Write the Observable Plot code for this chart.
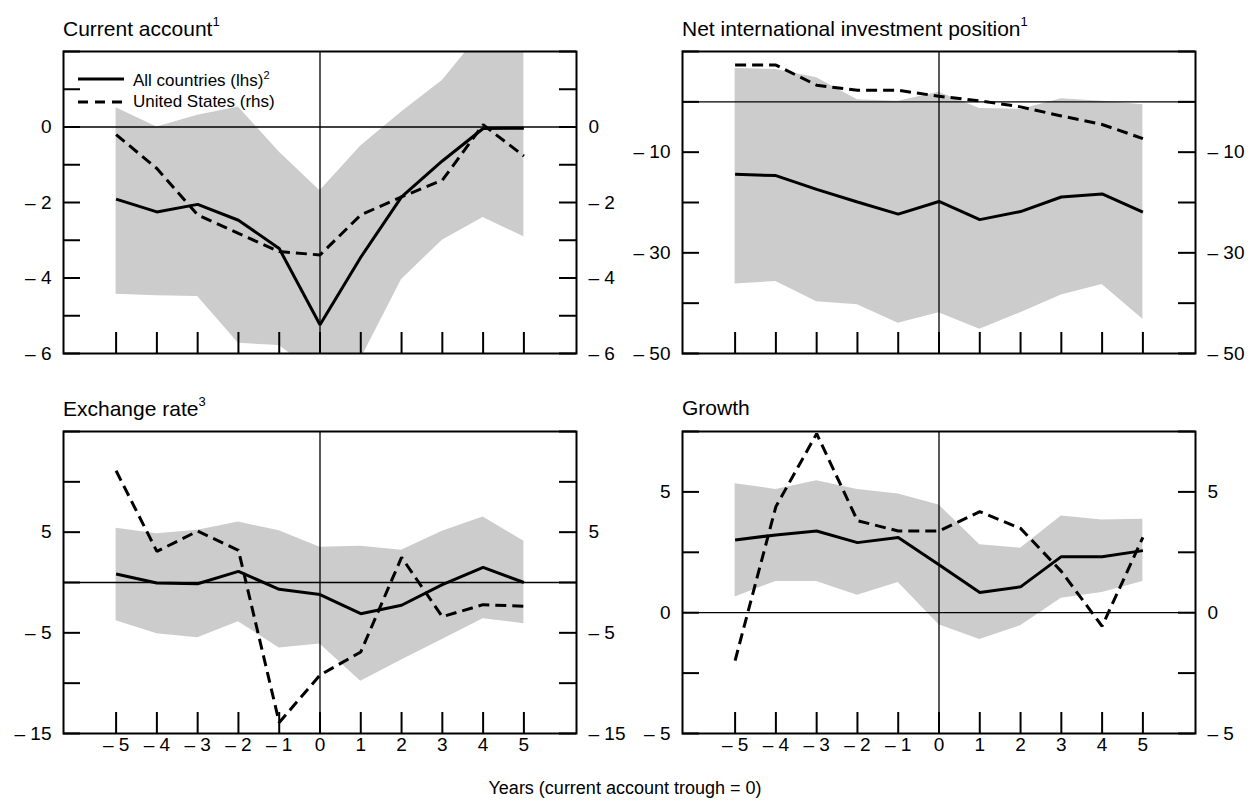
<!DOCTYPE html>
<html>
<head>
<meta charset="utf-8">
<script src="https://cdn.jsdelivr.net/npm/d3@7"></script>
<script src="https://cdn.jsdelivr.net/npm/@observablehq/plot@0.6"></script>
<style>
  body { margin: 0; background: #fff; }
  #chart { position: relative; width: 1250px; height: 804px; overflow: hidden;
           font-family: "Liberation Sans", Arial, Helvetica, sans-serif; color: #000; }
  .title { position: absolute; font-size: 21px; line-height: 1; white-space: nowrap; }
  .title sup { font-size: 13px; position: relative; top: -2px; }
  .legend { position: absolute; font-size: 17px; line-height: 1; white-space: nowrap; }
  .legend sup { font-size: 11px; }
  .legend .row { position: absolute; left: 0; display: flex; align-items: center; }
  .legend svg { display: block; margin-right: 9px; }
  .footer { position: absolute; left: 0; width: 1250px; text-align: center; font-size: 18px; line-height: 1; }
</style>
</head>
<body>
<div id="chart"></div>
<script>
// Years relative to the current account trough
const years = [-5, -4, -3, -2, -1, 0, 1, 2, 3, 4, 5];

// Current account (% of GDP)
const caAll  = [-1.91, -2.25, -2.05, -2.47, -3.22, -5.24, -3.45, -1.85, -0.90, -0.04, -0.03];
const caUS   = [-0.20, -1.10, -2.33, -2.82, -3.30, -3.39, -2.33, -1.85, -1.41, 0.06, -0.77];
const caHigh = [0.51, 0.00, 0.31, 0.53, -0.66, -1.69, -0.50, 0.40, 1.23, 2.55, 3.00];
const caLow  = [-4.43, -4.47, -4.49, -5.73, -5.79, -6.60, -6.15, -4.04, -3.00, -2.40, -2.91];

// Net international investment position (% of GDP)
const niAll  = [-14.4, -14.65, -17.4, -19.9, -22.3, -19.8, -23.4, -21.8, -18.9, -18.3, -21.9];
const niUS   = [7.3, 7.3, 3.3, 2.3, 2.3, 1.1, 0.2, -1.0, -2.8, -4.5, -7.3];
const niHigh = [6.6, 6.4, 4.8, 0.4, 0.1, 1.9, -1.3, -1.5, 0.6, 0.1, -0.6];
const niLow  = [-36.2, -35.7, -39.7, -40.3, -44.0, -41.9, -45.2, -41.9, -38.4, -36.3, -43.2];

// Exchange rate (% change)
const erAll  = [0.84, -0.05, -0.12, 1.10, -0.68, -1.20, -3.10, -2.26, -0.21, 1.50, 0.00];
const erUS   = [11.1, 3.09, 5.10, 3.20, -13.9, -9.20, -6.90, 2.50, -3.40, -2.20, -2.36];
const erHigh = [5.40, 4.85, 5.20, 6.00, 5.13, 3.50, 3.60, 3.20, 5.10, 6.50, 4.10];
const erLow  = [-3.80, -5.10, -5.50, -3.90, -6.50, -6.10, -9.80, -7.70, -5.65, -3.60, -4.10];

// Growth (%)
const grAll  = [3.01, 3.22, 3.38, 2.90, 3.11, 1.98, 0.84, 1.07, 2.32, 2.32, 2.57];
const grUS   = [-1.98, 4.39, 7.41, 3.81, 3.38, 3.38, 4.18, 3.49, 1.71, -0.56, 3.12];
const grHigh = [5.34, 5.10, 5.46, 5.10, 4.91, 4.46, 2.81, 2.67, 4.00, 3.84, 3.87];
const grLow  = [0.65, 1.29, 1.29, 0.72, 1.25, -0.50, -1.11, -0.54, 0.60, 0.84, 1.29];

// Axis ticks per panel: short marks and labelled values
const caMinor = [-6, -5, -4, -3, -2, -1, 0, 1, 2];
const caLabels = [0, -2, -4, -6];
const niMinor = [-50, -40, -30, -20, -10, 0, 10];
const niLabels = [-10, -30, -50];
const erMinor = [-15, -10, -5, 0, 5, 10, 15];
const erLabels = [5, -5, -15];
const grMinor = [-5, -2.5, 0, 2.5, 5, 7.5];
const grLabels = [5, 0, -5];

const chart = document.getElementById("chart");
const FONT = '"Liberation Sans", Arial, Helvetica, sans-serif';
const fmt = d => d < 0 ? "\u2013 " + (-d) : String(d);

function rowsOf(all, us, low, high) {
  return years.map((year, i) => ({year, all: all[i], us: us[i], low: low[i], high: high[i]}));
}

function panel({left, top, rows, yDomain, yMinor, yLabels, xLabels}) {
  const W = 513, H = 302, ML = 62, MR = 62, MT = 8, MB = 34;
  const svg = Plot.plot({
    width: W + ML + MR,
    height: H + MT + MB,
    marginLeft: ML, marginRight: MR, marginTop: MT, marginBottom: MB,
    x: {domain: [-6.29, 6.29], axis: null},
    y: {domain: yDomain, axis: null},
    style: {fontFamily: FONT, fontSize: "19px", color: "#000", background: "transparent", overflow: "visible"},
    marks: [
      Plot.areaY(rows, {x: "year", y1: "low", y2: "high", fill: "#cccccc", clip: true}),
      Plot.ruleY([0], {stroke: "#000", strokeWidth: 1.3}),
      Plot.ruleX([0], {stroke: "#000", strokeWidth: 1.3}),
      Plot.lineY(rows, {x: "year", y: "us", stroke: "#000", strokeWidth: 3,
        strokeDasharray: "11,6", strokeLinecap: "butt", strokeLinejoin: "miter", clip: true}),
      Plot.lineY(rows, {x: "year", y: "all", stroke: "#000", strokeWidth: 3,
        strokeLinecap: "butt", strokeLinejoin: "miter", clip: true}),
      Plot.tickY(yMinor, {y: d => d, insetRight: W - 17, stroke: "#000", strokeWidth: 2}),
      Plot.tickY(yMinor, {y: d => d, insetLeft: W - 17, stroke: "#000", strokeWidth: 2}),
      Plot.tickX(years, {x: d => d, insetTop: H - 21, stroke: "#000", strokeWidth: 2}),
      Plot.frame({stroke: "#000", strokeWidth: 2}),
      Plot.axisY(yLabels, {anchor: "left", tickSize: 0, tickPadding: 12, tickFormat: fmt, label: null}),
      Plot.axisY(yLabels, {anchor: "right", tickSize: 0, tickPadding: 12, tickFormat: fmt, label: null}),
      xLabels ? Plot.axisX(years, {anchor: "bottom", tickSize: 0, tickPadding: 4, tickFormat: fmt, label: null}) : null
    ]
  });
  svg.style.position = "absolute";
  svg.style.left = (left - ML) + "px";
  svg.style.top = (top - MT) + "px";
  chart.appendChild(svg);
}

function title(html, left, top) {
  const el = document.createElement("div");
  el.className = "title";
  el.style.left = left + "px";
  el.style.top = top + "px";
  el.innerHTML = html;
  chart.appendChild(el);
}

panel({left: 63, top: 51, rows: rowsOf(caAll, caUS, caLow, caHigh),
  yDomain: [-6, 2], yMinor: caMinor, yLabels: caLabels, xLabels: false});
panel({left: 682, top: 51, rows: rowsOf(niAll, niUS, niLow, niHigh),
  yDomain: [-50, 10], yMinor: niMinor, yLabels: niLabels, xLabels: false});
panel({left: 63, top: 431, rows: rowsOf(erAll, erUS, erLow, erHigh),
  yDomain: [-15, 15], yMinor: erMinor, yLabels: erLabels, xLabels: true});
panel({left: 682, top: 431, rows: rowsOf(grAll, grUS, grLow, grHigh),
  yDomain: [-5, 7.5], yMinor: grMinor, yLabels: grLabels, xLabels: true});

title("Current account<sup>1</sup>", 63, 17);
title("Net international investment position<sup>1</sup>", 682, 17);
title("Exchange rate<sup>3</sup>", 63, 397);
title("Growth", 682, 397);

// Legend for the two series
const legend = document.createElement("div");
legend.className = "legend";
legend.style.left = "78px";
legend.style.top = "70px";
legend.innerHTML = `
  <div class="row" style="top:0">
    <svg width="46" height="6"><line x1="0" x2="46" y1="3" y2="3" stroke="#000" stroke-width="3"/></svg>
    <span>All countries (lhs)<sup>2</sup></span>
  </div>
  <div class="row" style="top:23px">
    <svg width="46" height="6"><line x1="0" x2="46" y1="3" y2="3" stroke="#000" stroke-width="3" stroke-dasharray="10,7"/></svg>
    <span>United States (rhs)</span>
  </div>`;
chart.appendChild(legend);

const footer = document.createElement("div");
footer.className = "footer";
footer.style.top = "779px";
footer.textContent = "Years (current account trough = 0)";
chart.appendChild(footer);
</script>
</body>
</html>
